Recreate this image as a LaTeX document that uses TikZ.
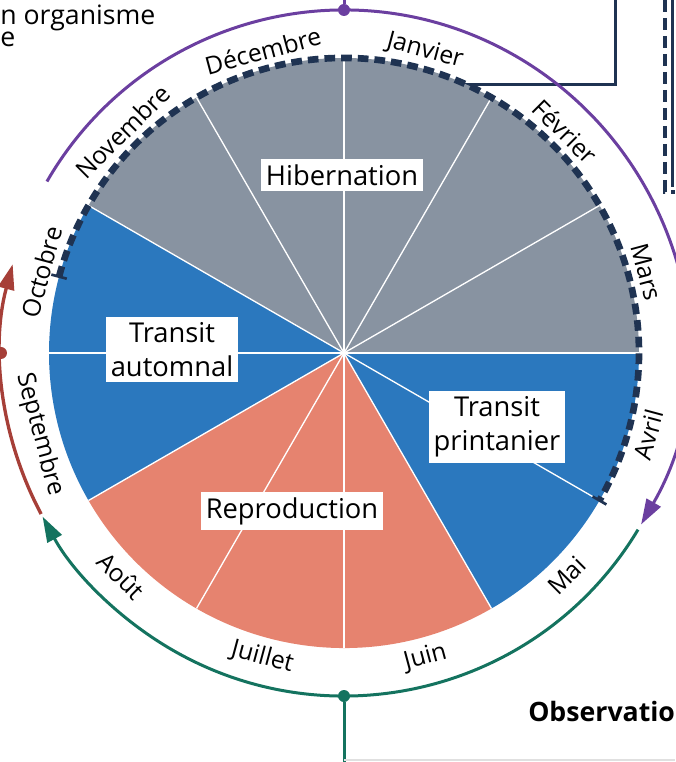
\documentclass[tikz,border=0pt]{standalone}
\usepackage{fontspec}
\setmainfont{Open Sans}
\usetikzlibrary{arrows.meta}
\definecolor{hibgray}{HTML}{8893A1}
\definecolor{transblue}{HTML}{2B78BE}
\definecolor{reprored}{HTML}{E6836F}
\definecolor{navy}{HTML}{1F3352}
\definecolor{cyclepurple}{HTML}{6B3FA0}
\definecolor{cyclered}{HTML}{A63F38}
\definecolor{cyclegreen}{HTML}{14735F}
\tikzstyle{monthlabel}=[inner sep=0pt, font=\fontsize{18.5}{21}\selectfont]
\tikzstyle{phaselabel}=[fill=white, inner xsep=3.5pt, inner ysep=4pt, align=center, font=\fontsize{20.5}{25.5}\selectfont]
\tikzstyle{cycledot}=[circle, inner sep=0pt, minimum size=9pt]
\tikzstyle{sectorline}=[white, line width=1pt]
\newcommand{\monthlabel}{\node[monthlabel]}
\newcommand{\phaselabel}{\node[phaselabel]}

\begin{document}
\begin{tikzpicture}[x=0.75pt, y=0.75pt, >={Triangle[length=19pt, width=12pt]}]
\useasboundingbox (-344,-409) rectangle (331,353);

% cadres autour
\coordinate (boxtop) at (271,353);
\coordinate (boxcorner) at (271,268);
\coordinate (boxend) at (0,268);
\draw[navy, line width=2.25pt] (boxtop) -- (boxcorner) -- (boxend);
\coordinate (sidetop) at (321,353);
\coordinate (sidecorner) at (321,161);
\coordinate (sideend) at (331,161);
\draw[navy, line width=3pt, dash pattern=on 9pt off 4.5pt] (sidetop) -- (sidecorner) -- (sideend);
\draw[navy, line width=2.25pt] (328,353) -- (328,166);

% secteurs
\fill[hibgray] (0,0) -- (0:295) arc[start angle=0, end angle=150, radius=295] -- cycle;
\fill[transblue] (0,0) -- (150:295) arc[start angle=150, end angle=210, radius=295] -- cycle;
\fill[reprored] (0,0) -- (210:295) arc[start angle=210, end angle=300, radius=295] -- cycle;
\fill[transblue] (0,0) -- (300:295) arc[start angle=300, end angle=360, radius=295] -- cycle;
\path[sectorline]
    (0,0) edge (0:295) (0,0) edge (30:295) (0,0) edge (60:295)
    (0,0) edge (90:295) (0,0) edge (120:295) (0,0) edge (150:295)
    (0,0) edge (180:295) (0,0) edge (210:295) (0,0) edge (240:295)
    (0,0) edge (270:295) (0,0) edge (300:295) (0,0) edge (330:295);

% periode d'hibernation
\draw[navy, line width=5pt, dash pattern=on 8pt off 4.5pt]
    (165:295) arc[start angle=165, end angle=-30, radius=295];
\draw[navy, line width=2pt] (165:287) -- (165:303);
\draw[navy, line width=2pt] (-30:287) -- (-30:303);

% cycle
\node[cycledot, fill=cyclepurple] (purpledot) at (90:343) {};
\node[cycledot, fill=cyclered] (reddot) at (180:343) {};
\node[cycledot, fill=cyclegreen] (greendot) at (270:343) {};
\coordinate (topedge) at (0,353);
\coordinate (bottomedge) at (0,-409);
\draw[->, cyclepurple, line width=2.25pt] (150:343) arc[start angle=150, end angle=-30, radius=343];
\draw[->, cyclered, line width=2.5pt] (208:343) arc[start angle=208, end angle=165, radius=343];
\draw[->, cyclegreen, line width=2.25pt] (-31:343) arc[start angle=-31, end angle=-151.5, radius=343];
\draw[cyclepurple, line width=2.25pt] (purpledot) -- (topedge);
\draw[cyclegreen, line width=2.25pt] (greendot) -- (bottomedge);
\draw[black!12, line width=1pt] (0,-407) -- (331,-407);

% mois
\monthlabel (dec) at (105:313) [rotate=15] {Décembre};
\monthlabel (jan) at (75:313) [rotate=-15] {Janvier};
\monthlabel (feb) at (45:313) [rotate=-45] {Février};
\monthlabel (mar) at (15:313) [rotate=-75] {Mars};
\monthlabel (apr) at (-15:315) [rotate=75] {Avril};
\monthlabel (may) at (-45:315) [rotate=45] {Mai};
\monthlabel (jun) at (-75:315) [rotate=15] {Juin};
\monthlabel (jul) at (-105:315) [rotate=-15] {Juillet};
\monthlabel (aug) at (-135:315) [rotate=-45] {Août};
\monthlabel (sep) at (-165:315) [rotate=-75] {Septembre};
\monthlabel (oct) at (165:313) [rotate=75] {Octobre};
\monthlabel (nov) at (135:313) [rotate=45] {Novembre};

% phases
\phaselabel (hib) at (-2,178) {Hibernation};
\phaselabel (autumn) at (-172,3) {Transit\\automnal};
\phaselabel (repro) at (-52,-158) {Reproduction};
\phaselabel (spring) at (153,-74) {Transit\\printanier};

% textes coupes
\node[anchor=base west, inner sep=0pt, font=\fontsize{20}{16.5}\selectfont] (orgtext) at (-344,328) {n organisme};
\node[anchor=base west, inner sep=0pt, font=\fontsize{20}{16.5}\selectfont] (orgtext2) at (-344,306) {e};
\node[anchor=base west, inner sep=0pt, font=\fontsize{20}{24}\selectfont\bfseries] (obs) at (184,-368) {Observation};
\end{tikzpicture}
\end{document}
